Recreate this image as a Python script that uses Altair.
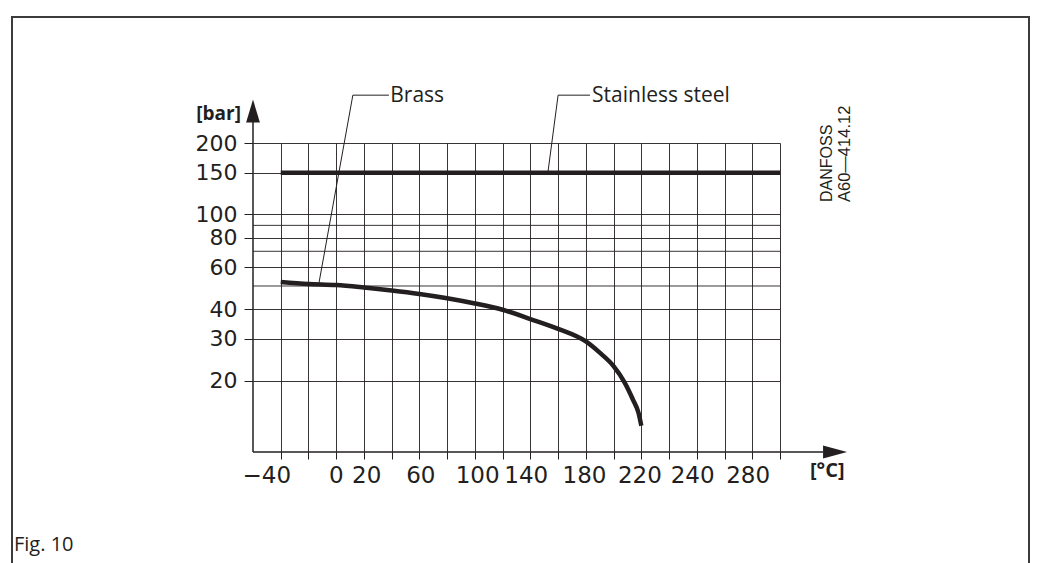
import altair as alt
import pandas as pd

INK = "#231f20"

# ---- data ----
brass_temp = [-40, -20, 0, 20, 40, 60, 80, 100, 120, 140, 160, 180, 190, 200, 208, 214, 218, 220]
brass_bar = [52, 51, 50.5, 49.3, 47.9, 46.3, 44.4, 42.2, 39.7, 36.3, 33.0, 29.2, 26.2, 23.0, 19.6, 16.6, 14.6, 12.9]
steel_temp = [-40, 320]
steel_bar = [150, 150]

x_grid_values = list(range(-40, 321, 20))
y_label_values = [20, 30, 40, 60, 80, 100, 150, 200]
y_minor_grid = [50, 70, 90]
x_tick_labels = ["\u221240", "0", "20", "60", "100", "140", "180", "220", "240", "280"]
x_tick_label_pos = [-50, 0, 22, 61, 102, 137, 179, 219, 257, 297]

# annotation leader lines (temperature, pressure)
brass_leader_t = [38, 12, -12.4]
brass_leader_p = [318, 318, 51.6]
steel_leader_t = [183, 160, 152.7]
steel_leader_p = [318, 318, 151]

W, H = 527, 309

xscale = alt.Scale(domain=[-60, 320], nice=False, zero=False)
yscale = alt.Scale(type="log", domain=[10, 200], nice=False)
xaxis = alt.Axis(values=x_grid_values, labels=False, ticks=True, tickSize=7,
                 tickColor=INK, tickWidth=1, grid=True, gridColor=INK,
                 gridWidth=1, gridOpacity=0.9, domain=False, title=None)
yaxis = alt.Axis(values=y_label_values, labelFont="DejaVu Sans", labelFontSize=22,
                 labelColor=INK, labelPadding=7, tickSize=9, tickColor=INK,
                 tickWidth=1, grid=True, gridColor=INK, gridWidth=1,
                 gridOpacity=0.9, domain=False, title=None)


def X(field):
    return alt.X(field, type="quantitative", scale=xscale, axis=xaxis)


def Y(field):
    return alt.Y(field, type="quantitative", scale=yscale, axis=yaxis)


one = pd.DataFrame({"a": [0]})

brass = alt.Chart(pd.DataFrame({"t": brass_temp, "p": brass_bar})).mark_line(
    color=INK, strokeWidth=4.5, interpolate="monotone", strokeCap="butt"
).encode(x=X("t"), y=Y("p"))

steel = alt.Chart(pd.DataFrame({"t": steel_temp, "p": steel_bar})).mark_line(
    color=INK, strokeWidth=4.5, strokeCap="butt"
).encode(x=X("t"), y=Y("p"))

minor = alt.Chart(pd.DataFrame({"p": y_minor_grid})).mark_rule(
    color=INK, strokeWidth=1, opacity=0.9
).encode(y=Y("p"), x=alt.value(0), x2=alt.value(W))

# axis lines
yline = alt.Chart(pd.DataFrame({"t": [-60], "p": [10], "p2": [245]})).mark_rule(
    color=INK, strokeWidth=1.5
).encode(x=X("t"), y=Y("p"), y2="p2")
xline = alt.Chart(pd.DataFrame({"t": [-60], "t2": [351], "p": [10]})).mark_rule(
    color=INK, strokeWidth=1.5
).encode(x=X("t"), x2="t2", y=Y("p"))

up_arrow = alt.Chart(pd.DataFrame({"t": [-60], "p": [272.6]})).mark_point(
    shape="M-0.6,1L0,-1L0.6,1Z", size=529, filled=True, color=INK, opacity=1
).encode(x=X("t"), y=Y("p"))
right_arrow = alt.Chart(pd.DataFrame({"t": [359.7], "p": [10]})).mark_point(
    shape="M-1,-0.55L1,0L-1,0.55Z", size=576, filled=True, color=INK, opacity=1
).encode(x=X("t"), y=Y("p"))

leaders = alt.Chart(pd.DataFrame({
    "t": brass_leader_t + steel_leader_t,
    "p": brass_leader_p + steel_leader_p,
    "s": ["b"] * 3 + ["s"] * 3,
    "o": [0, 1, 2] * 2,
})).mark_line(color=INK, strokeWidth=1).encode(
    x=X("t"), y=Y("p"), detail="s:N", order="o:Q")

ann = alt.Chart(pd.DataFrame({"t": [39, 184.5], "p": [297, 297],
                              "txt": ["Brass", "Stainless steel"]})).mark_text(
    font="Open Sans", fontSize=21, color=INK, align="left", baseline="alphabetic"
).encode(x=X("t"), y=Y("p"), text="txt:N")

xlabels = alt.Chart(pd.DataFrame({"t": x_tick_label_pos, "txt": x_tick_labels})).mark_text(
    font="DejaVu Sans", fontSize=23, color=INK, align="center", baseline="alphabetic"
).encode(x=X("t"), y=alt.value(340), text="txt:N")

bar_title = alt.Chart(one).mark_text(
    text="[bar]", font="Open Sans", fontWeight="bold", fontSize=19, color=INK,
    align="right", baseline="alphabetic"
).encode(x=alt.value(-12), y=alt.value(-23))
deg_title = alt.Chart(one).mark_text(
    text="[°C]", font="Open Sans", fontWeight="bold", fontSize=20, color=INK,
    align="left", baseline="alphabetic"
).encode(x=alt.value(557), y=alt.value(334))

danfoss1 = alt.Chart(one).mark_text(
    text="DANFOSS", font="Liberation Sans", fontSize=16, color=INK, angle=270,
    align="left", baseline="alphabetic"
).encode(x=alt.value(579), y=alt.value(59))
danfoss2 = alt.Chart(one).mark_text(
    text="A60\u2014414.12", font="Liberation Sans", fontSize=16.5, color=INK, angle=270,
    align="left", baseline="alphabetic"
).encode(x=alt.value(597), y=alt.value(59))

frame_left = alt.Chart(one).mark_rule(color="#3c3c3c", strokeWidth=2).encode(
    x=alt.value(-241), y=alt.value(-126), y2=alt.value(430))
frame_top = alt.Chart(one).mark_rule(color="#3c3c3c", strokeWidth=2).encode(
    x=alt.value(-242), x2=alt.value(777), y=alt.value(-126))
frame_right = alt.Chart(one).mark_rule(color="#3c3c3c", strokeWidth=2).encode(
    x=alt.value(776), y=alt.value(-126), y2=alt.value(430))

fig = alt.Chart(one).mark_text(
    text="Fig. 10", font="Open Sans", fontSize=20, color=INK,
    align="left", baseline="alphabetic"
).encode(x=alt.value(-239), y=alt.value(408))

chart = alt.layer(
    minor, brass, steel, yline, xline, up_arrow, right_arrow, leaders, ann,
    xlabels, bar_title, deg_title, danfoss1, danfoss2,
    frame_left, frame_top, frame_right, fig
).properties(
    width=W, height=H,
    autosize=alt.AutoSizeParams(type="none"),
    padding={"left": 245, "top": 135, "right": 250, "bottom": 111},
    background="white",
).configure_view(strokeWidth=0)

chart.save("out.html", embed_options={"renderer": "svg", "actions": False})
